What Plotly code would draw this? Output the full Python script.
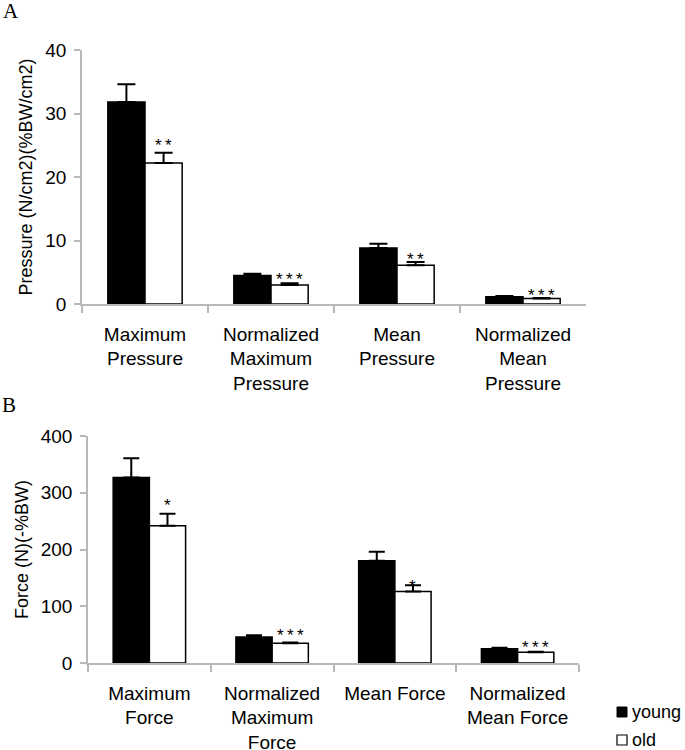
import plotly.graph_objects as go

# ---- data ----
cats_a = ["Maximum<br>Pressure", "Normalized<br>Maximum<br>Pressure", "Mean<br>Pressure", "Normalized<br>Mean<br>Pressure"]
young_a = [31.8, 4.5, 8.8, 1.15]
young_a_err = [2.8, 0.25, 0.7, 0.1]
old_a = [22.2, 3.0, 6.1, 0.85]
old_a_err = [1.6, 0.25, 0.5, 0.1]
stars_a = ["**", "***", "**", "***"]

cats_b = ["Maximum<br>Force", "Normalized<br>Maximum<br>Force", "Mean Force", "Normalized<br>Mean Force"]
young_b = [327, 46, 180, 25]
young_b_err = [34, 3, 16, 2]
old_b = [242, 35, 126, 19]
old_b_err = [21, 1, 11, 1]
stars_b = ["*", "***", "*", "***"]

yticks_a = [0, 10, 20, 30, 40]
yticks_b = [0, 100, 200, 300, 400]
series_names = ["young", "old"]

# ---- style / layout ----
W, H = 685, 750
FONT = "Liberation Sans, Arial, sans-serif"
SERIF = "Liberation Serif, Times New Roman, serif"
AXC = "#b8b8b8"
BARGAP = 0.41
star_shift_a = [7, 4, 3, 2]
star_shift_b = [8, 7, -1, 4]

def px(x):
    return x / W

def py(y):
    return 1 - y / H

def spaced(s):
    return "\u2009".join(s)

fig = go.Figure()

def add_panel(cats, y1, e1, y2, e2, xa, ya, capw):
    fig.add_trace(go.Bar(x=cats, y=y1, name=series_names[0],
                         marker=dict(color="black", line=dict(color="black", width=1.5)),
                         error_y=dict(type="data", array=e1, arrayminus=[0] * len(e1), symmetric=False,
                                      color="black", thickness=2, width=capw),
                         xaxis=xa, yaxis=ya, showlegend=False))
    fig.add_trace(go.Bar(x=cats, y=y2, name=series_names[1],
                         marker=dict(color="white", line=dict(color="black", width=1.5)),
                         error_y=dict(type="data", array=e2, arrayminus=[0] * len(e2), symmetric=False,
                                      color="black", thickness=2, width=capw),
                         xaxis=xa, yaxis=ya, showlegend=False))

add_panel(cats_a, young_a, young_a_err, old_a, old_a_err, "x", "y", 9)
add_panel(cats_b, young_b, young_b_err, old_b, old_b_err, "x2", "y2", 8)

annotations = []
off = (1 - BARGAP) / 4
for i, s in enumerate(stars_a):
    annotations.append(dict(x=i + off, y=old_a[i] + old_a_err[i], xref="x", yref="y", text=spaced(s), showarrow=False,
                            yanchor="middle", yshift=star_shift_a[i], font=dict(size=17, family=FONT, color="black")))
for i, s in enumerate(stars_b):
    annotations.append(dict(x=i + off, y=old_b[i] + old_b_err[i], xref="x2", yref="y2", text=spaced(s), showarrow=False,
                            yanchor="middle", yshift=star_shift_b[i], font=dict(size=17, family=FONT, color="black")))
annotations.append(dict(x=px(1), y=py(11), xref="paper", yref="paper", text="A", showarrow=False,
                        xanchor="left", yanchor="middle", font=dict(size=21, family=SERIF, color="black")))
annotations.append(dict(x=px(0), y=py(405), xref="paper", yref="paper", text="B", showarrow=False,
                        xanchor="left", yanchor="middle", font=dict(size=21, family=SERIF, color="black")))
# legend (drawn manually to match the reference spacing)
annotations.append(dict(x=px(630), y=py(712), xref="paper", yref="paper", text=series_names[0], showarrow=False,
                        xanchor="left", yanchor="middle", font=dict(size=18, family=FONT, color="black")))
annotations.append(dict(x=px(630), y=py(740), xref="paper", yref="paper", text=series_names[1], showarrow=False,
                        xanchor="left", yanchor="middle", font=dict(size=18, family=FONT, color="black")))
shapes = [
    dict(type="rect", xref="paper", yref="paper", x0=px(617), x1=px(627), y0=py(717), y1=py(707),
         fillcolor="black", line=dict(color="black", width=1)),
    dict(type="rect", xref="paper", yref="paper", x0=px(617), x1=px(627), y0=py(745), y1=py(735),
         fillcolor="white", line=dict(color="black", width=1.2)),
]

xcommon = dict(type="category", showline=True, linecolor=AXC, linewidth=1.5, ticks="outside", ticklen=7,
               tickcolor=AXC, tickwidth=1.5, tickson="boundaries", showgrid=False, zeroline=False,
               automargin=False, ticklabelstandoff=12,
               tickfont=dict(size=19, family=FONT, color="black"))
ycommon = dict(showline=True, linecolor=AXC, linewidth=1.5, ticks="outside", ticklen=6, tickcolor=AXC,
               tickwidth=1.5, showgrid=False, zeroline=False, automargin=False, ticklabelstandoff=4,
               tickfont=dict(size=19, family=FONT, color="black"))

fig.update_layout(
    width=W, height=H,
    margin=dict(l=0, r=0, t=0, b=0, autoexpand=False),
    paper_bgcolor="white", plot_bgcolor="white",
    barmode="group", bargap=BARGAP, bargroupgap=0,
    showlegend=False,
    xaxis=dict(domain=[px(82), px(586)], anchor="y", **xcommon),
    yaxis=dict(domain=[py(304), py(50)], anchor="x", range=[0, 40], tickvals=yticks_a,
               title=dict(text="Pressure (N/cm2)(%BW/cm2)", font=dict(size=18, family=FONT, color="black"), standoff=8),
               **ycommon),
    xaxis2=dict(domain=[px(88), px(579)], anchor="y2", **xcommon),
    yaxis2=dict(domain=[py(663), py(436)], anchor="x2", range=[0, 400], tickvals=yticks_b,
                title=dict(text="Force (N)(-%BW)", font=dict(size=18, family=FONT, color="black"), standoff=7),
                **ycommon),
    annotations=annotations,
    shapes=shapes,
    font=dict(family=FONT, color="black"),
)

fig.write_html("out.html", config={"displayModeBar": False},
               post_script="document.body.style.margin='0px';")
